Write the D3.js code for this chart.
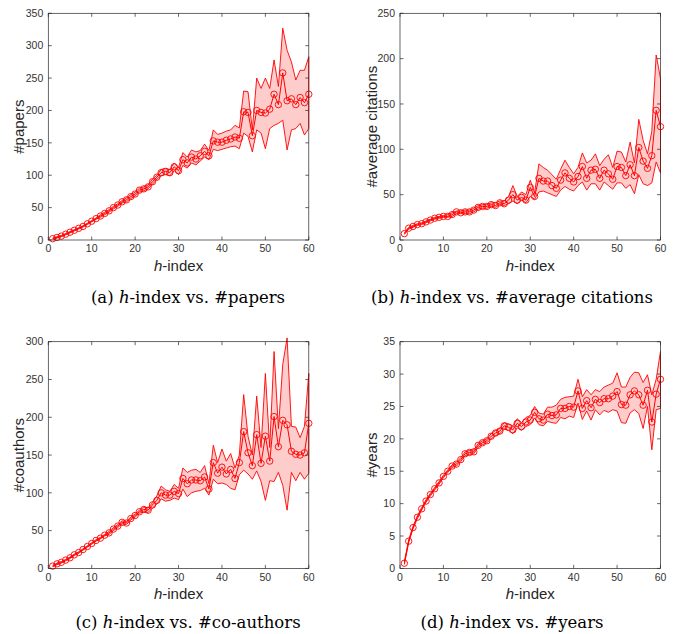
<!DOCTYPE html>
<html>
<head>
<meta charset="utf-8">
<script src="https://cdn.jsdelivr.net/npm/d3@7"></script>
<style>
body { margin: 0; background: #fff; }
svg { display: block; }
</style>
</head>
<body>
<div id="chart"></div>
<script>
// h-index values (x axis)
var hIndex = [1,2,3,4,5,6,7,8,9,10,11,12,13,14,15,16,17,18,19,20,21,22,23,24,25,26,27,28,29,30,
  31,32,33,34,35,36,37,38,39,40,41,42,43,44,45,46,47,48,49,50,51,52,53,54,55,56,57,58,59,60];

// (a) #papers
var papersMean = [2,4,6,9,12,15,18,21,25,29,33,37,41,45,50,54,59,62,67,71,77,79,82,90,
  97,104,106,104,113,107,124,119,128,125,130,137,130,153,151,151,154,156,159,157,198,197,161,200,197,196,202,225,209,258,215,218,209,220,212,225];
var papersUpper = [3,5,7,10,13,16,19,22,26,30,34,39,43,47,52,56,61,65,70,74,80,82,85,94,
  100,109,110,109,119,112,135,128,139,136,138,148,138,170,163,165,168,170,177,173,230,229,170,250,234,250,234,278,237,327,293,275,247,262,262,283];
var papersLower = [1,3,5,8,11,14,17,20,24,28,32,35,39,43,48,52,57,59,64,68,74,76,79,86,
  94,99,101,99,107,101,115,111,119,116,122,128,124,140,138,140,142,144,145,141,165,160,136,170,165,141,172,177,180,185,139,170,172,180,162,172];

// (b) #average citations
var citMean = [7,13,15,17,18,20,22,24,25,26,26,28,31,30,31,31,33,36,37,37,39,38,41,40,
  44,50,44,47,44,58,48,68,65,65,60,57,66,74,68,64,70,81,68,77,78,68,77,73,67,81,80,71,83,71,102,87,79,93,143,125];
var citUpper = [8,14,16,18,19,21,23,25,26,27,28,30,32,32,33,33,35,38,39,39,41,41,43,43,
  48,60,48,53,50,66,52,84,80,77,72,67,78,88,80,73,80,96,85,88,95,82,89,94,80,98,97,86,108,85,133,110,95,120,204,178];
var citLower = [6,12,14,16,17,19,21,23,24,25,25,26,29,29,29,29,31,34,35,35,37,36,39,38,
  40,43,40,44,41,48,45,53,54,52,50,48,55,59,56,54,60,64,55,62,62,55,64,60,56,63,63,57,61,51,72,62,60,63,86,74];

// (c) #coauthors
var coMean = [3,6,8,11,14,18,21,25,29,33,37,40,44,47,52,56,61,60,66,70,75,78,77,
  84,90,100,97,97,102,99,119,112,117,117,116,121,105,140,126,134,125,131,119,140,181,153,136,177,139,175,142,201,161,196,190,155,151,150,153,192];
var coUpper = [4,7,9,12,15,19,22,26,30,34,38,41,45,49,54,58,63,62,68,72,77,81,80,
  87,96,109,104,102,111,106,133,127,130,131,127,136,112,163,140,158,142,152,133,150,230,175,150,228,160,258,160,287,185,270,305,188,187,173,188,258];
var coLower = [2,5,7,10,13,17,20,24,28,32,36,39,43,45,50,54,59,58,64,68,73,75,74,
  80,85,92,89,90,93,91,105,95,100,102,103,106,97,118,112,113,111,106,104,124,130,125,118,129,115,90,116,115,127,110,77,127,116,127,118,126];

// (d) #years
var yearsMean = [0.8,4.2,6.3,7.9,9.2,10.4,11.4,12.3,13.2,14.2,15.0,15.8,16.1,16.8,17.7,17.9,18.0,19.0,19.4,19.7,20.4,20.9,21.2,22.0,21.8,21.4,22.4,21.9,22.6,
  22.9,24.1,23.1,22.9,23.8,23.6,23.7,24.7,24.7,25.0,24.9,27.4,24.7,25.9,24.8,26.1,25.6,26.2,26.2,26.6,27.3,25.3,25.2,26.8,27.4,26.8,25.2,27.5,22.6,26.9,29.2];
var yearsUpper = [1.0,4.4,6.5,8.1,9.4,10.6,11.6,12.5,13.4,14.4,15.2,16.0,16.4,17.1,18.0,18.2,18.3,19.3,19.7,20.0,20.8,21.3,21.6,22.5,22.3,22.0,23.1,22.5,23.3,
  23.6,25.0,24.0,23.8,24.9,24.9,25.2,26.1,26.4,26.5,26.6,29.2,26.5,27.6,26.8,27.6,27.3,28.0,28.3,28.6,30.2,28.0,28.0,29.5,30.3,30.2,28.7,29.9,26.8,29.2,33.5];
var yearsLower = [0.6,4.0,6.1,7.7,9.0,10.2,11.2,12.1,13.0,14.0,14.8,15.6,15.8,16.5,17.4,17.6,17.7,18.7,19.1,19.4,20.0,20.5,20.8,21.5,21.3,20.8,21.7,21.3,21.9,
  22.2,23.2,22.2,22.0,22.7,22.5,22.4,23.3,23.1,23.5,23.3,25.5,23.0,24.3,22.9,24.5,23.7,24.4,24.1,24.5,24.3,22.5,22.4,24.0,24.5,23.9,21.6,25.0,18.3,24.5,24.7];

var xTicks = [0,10,20,30,40,50,60];
var yMaxes = [350, 250, 300, 35];
var yTickSteps = [50, 50, 50, 5];
var yLabels = ["#papers", "#average citations", "#coauthors", "#years"];
var captionLetters = ["(a)", "(b)", "(c)", "(d)"];
var captionRest = ["-index vs. #papers", "-index vs. #average citations", "-index vs. #co-authors", "-index vs. #years"];

var W = 673, H = 634;
var red = "#ff0000", axisCol = "#262626";

var svg = d3.select("#chart").append("svg").attr("width", W).attr("height", H);

var panels = [
  {mean: papersMean, up: papersUpper, lo: papersLower, x0: 48.3, y0: 13.3, cap: 188, capY: 303},
  {mean: citMean, up: citUpper, lo: citLower, x0: 400, y0: 13.3, cap: 512, capY: 303},
  {mean: coMean, up: coUpper, lo: coLower, x0: 48.3, y0: 341.7, cap: 188, capY: 628},
  {mean: yearsMean, up: yearsUpper, lo: yearsLower, x0: 400, y0: 341.7, cap: 512, capY: 628}
];
var pw = 260.5, ph = 226.7;

panels.forEach(function(p, i) {
  var g = svg.append("g").attr("transform", "translate(" + p.x0 + "," + p.y0 + ")");
  var x = d3.scaleLinear().domain([0, 60]).range([0, pw]);
  var y = d3.scaleLinear().domain([0, yMaxes[i]]).range([ph, 0]);
  var yTicks = d3.range(0, yMaxes[i] + 0.001, yTickSteps[i]);

  var pts = hIndex.map(function(h, k) { return {h: h, m: p.mean[k], u: p.up[k], l: p.lo[k]}; });

  // shaded band
  g.append("path").datum(pts)
    .attr("d", d3.area().x(d => x(d.h)).y0(d => y(d.l)).y1(d => y(d.u)))
    .attr("fill", "#ffcccc").attr("stroke", "none");

  ["u", "l"].forEach(function(k) {
    g.append("path").datum(pts)
      .attr("d", d3.line().x(d => x(d.h)).y(d => y(d[k])))
      .attr("fill", "none").attr("stroke", red).attr("stroke-width", 0.9);
  });
  // close band at last point
  g.append("line")
    .attr("x1", x(60)).attr("x2", x(60))
    .attr("y1", y(p.up[59])).attr("y2", y(p.lo[59]))
    .attr("stroke", red).attr("stroke-width", 0.9);

  g.append("path").datum(pts)
    .attr("d", d3.line().x(d => x(d.h)).y(d => y(d.m)))
    .attr("fill", "none").attr("stroke", red).attr("stroke-width", 1);

  g.selectAll(".pt").data(pts).enter().append("circle")
    .attr("cx", d => x(d.h)).attr("cy", d => y(d.m)).attr("r", 3.2)
    .attr("fill", "none").attr("stroke", red).attr("stroke-width", 0.9);

  // box with inward ticks on all sides
  g.append("rect").attr("width", pw).attr("height", ph)
    .attr("fill", "none").attr("stroke", axisCol).attr("stroke-width", 0.7);

  var tl = 3.5;
  xTicks.forEach(function(t) {
    g.append("line").attr("x1", x(t)).attr("x2", x(t)).attr("y1", ph).attr("y2", ph - tl)
      .attr("stroke", axisCol).attr("stroke-width", 0.7);
    g.append("line").attr("x1", x(t)).attr("x2", x(t)).attr("y1", 0).attr("y2", tl)
      .attr("stroke", axisCol).attr("stroke-width", 0.7);
    g.append("text").attr("x", x(t)).attr("y", ph + 12.5)
      .attr("text-anchor", "middle")
      .style("font-family", "Liberation Sans, Arial, sans-serif").style("font-size", "10.5px")
      .attr("fill", "#333").text(t);
  });
  yTicks.forEach(function(t) {
    g.append("line").attr("x1", 0).attr("x2", tl).attr("y1", y(t)).attr("y2", y(t))
      .attr("stroke", axisCol).attr("stroke-width", 0.7);
    g.append("line").attr("x1", pw).attr("x2", pw - tl).attr("y1", y(t)).attr("y2", y(t))
      .attr("stroke", axisCol).attr("stroke-width", 0.7);
    g.append("text").attr("x", -5).attr("y", y(t) + 3.7)
      .attr("text-anchor", "end")
      .style("font-family", "Liberation Sans, Arial, sans-serif").style("font-size", "10.5px")
      .attr("fill", "#333").text(t);
  });

  // axis labels
  var xl = g.append("text").attr("x", pw / 2).attr("y", ph + 31)
    .attr("text-anchor", "middle")
    .style("font-family", "Liberation Sans, Arial, sans-serif").style("font-size", "15px")
    .attr("fill", axisCol);
  xl.append("tspan").style("font-style", "italic").text("h");
  xl.append("tspan").text("-index");

  var yOff = i % 2 === 0 ? -24 : -23;
  g.append("text")
    .attr("transform", "translate(" + yOff + "," + (ph / 2) + ") rotate(-90)")
    .attr("text-anchor", "middle")
    .style("font-family", "Liberation Sans, Arial, sans-serif").style("font-size", "15px")
    .attr("fill", axisCol).text(yLabels[i]);

  // caption
  var c = svg.append("text").attr("x", p.cap).attr("y", p.capY)
    .attr("text-anchor", "middle")
    .style("font-family", "DejaVu Serif, serif").style("font-size", "16.5px")
    .attr("fill", "#000");
  c.append("tspan").text(captionLetters[i] + " ");
  c.append("tspan").style("font-style", "italic").text("h");
  c.append("tspan").text(captionRest[i]);
});
</script>
</body>
</html>
